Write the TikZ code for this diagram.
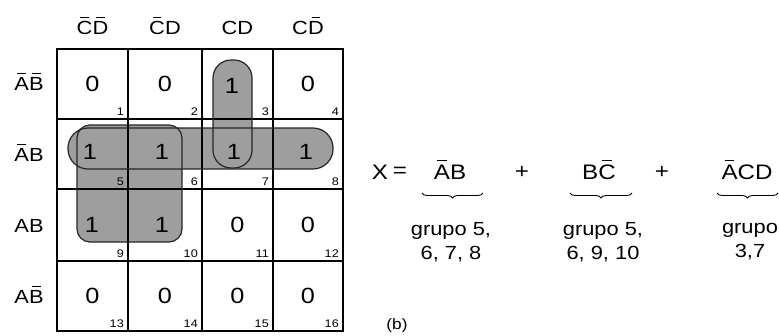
\documentclass[tikz,border=0pt]{standalone}
\usepackage{fontspec}
\setmainfont[FakeStretch=1.15]{Liberation Sans}
\usetikzlibrary{decorations.pathreplacing}
\newcommand\nt[1]{\ooalign{#1\cr\hidewidth\rule[0.86em]{0.45em}{0.07em}\hidewidth\cr}}
\tikzset{
  hdr/.style={font=\fontsize{19}{19}\selectfont, inner sep=0pt},
  val/.style={font=\fontsize{22}{22}\selectfont, inner sep=0pt},
  num/.style={font=\fontsize{11}{11}\selectfont, inner sep=0pt, anchor=south east},
  eq/.style={font=\fontsize{21}{21}\selectfont, inner sep=0pt},
  grp/.style={font=\fontsize{19}{24}\selectfont, inner sep=0pt, align=center},
  grpfill/.style={fill=black!38},
  grpline/.style={draw=black!85, line width=1.2pt},
  gridline/.style={line width=1.3pt},
  brc/.style={decorate, decoration={brace, mirror, amplitude=5pt}, line width=0.9pt}
}
\begin{document}
\begin{tikzpicture}[x=1pt, y=-1pt]
\useasboundingbox (0,0) rectangle (779,335);
% group fills
\fill[grpfill, rounded corners=20] (68,128) rectangle (333,169);
\fill[grpfill, rounded corners=13] (77,125) rectangle (182,242);
\fill[grpfill, rounded corners=18] (213,60) rectangle (252,168);
% grid
\draw[gridline] (57,49) rectangle (343,331);
\foreach \x in {128,202,273} \draw[gridline] (\x,49) -- (\x,331);
\foreach \y in {119,189,261} \draw[gridline] (57,\y) -- (343,\y);
% group outlines
\draw[grpline, rounded corners=18] (213,60) rectangle (252,168);
\draw[grpline, rounded corners=20] (68,128) rectangle (333,169);
\draw[grpline, rounded corners=13] (77,125) rectangle (182,242);
% headers
\node[hdr] (h1) at (92.5,28) {\nt{C}\nt{D}};
\node[hdr] (h2) at (165,28) {\nt{C}D};
\node[hdr] (h3) at (237.5,28) {CD};
\node[hdr] (h4) at (308,28) {C\nt{D}};
\node[hdr] (r1) at (29,84) {\nt{A}\nt{B}};
\node[hdr] (r2) at (29,155) {\nt{A}B};
\node[hdr] (r3) at (29,226) {AB};
\node[hdr] (r4) at (29,297) {A\nt{B}};
% cell numbers
\foreach \r/\yb in {0/119, 1/189, 2/261, 3/331} {
  \foreach \c/\xr in {1/128, 2/202, 3/273, 4/343} {
    \pgfmathtruncatemacro{\n}{\r*4+\c}
    \node[num] (n\n) at (\xr-4,\yb-3) {\n};
  }
}
% cell values
\node[val] (v1) at (92.5,84) {0};
\node[val] (v2) at (165,84) {0};
\node[val] (v3) at (232,86) {1};
\node[val] (v4) at (308,84) {0};
\node[val] (v5) at (90,152) {1};
\node[val] (v6) at (162,152) {1};
\node[val] (v7) at (234,152) {1};
\node[val] (v8) at (306,152) {1};
\node[val] (v9) at (92,225) {1};
\node[val] (v10) at (162,225) {1};
\node[val] (v11) at (237.5,225) {0};
\node[val] (v12) at (308,225) {0};
\node[val] (v13) at (92.5,296) {0};
\node[val] (v14) at (165,296) {0};
\node[val] (v15) at (237.5,296) {0};
\node[val] (v16) at (308,296) {0};
% equation
\node[eq] (X) at (380,172) {X};
\node[eq] (eqs) at (400,172) {=};
\node[eq] (t1) at (450,172) {\nt{A}B};
\node[eq] (p1) at (522,172) {+};
\node[eq] (t2) at (599,172) {B\nt{C}};
\node[eq] (p2) at (662,172) {+};
\node[eq] (t3) at (747,172) {\nt{A}CD};
\coordinate (b1l) at (422,193); \coordinate (b1r) at (483,193);
\coordinate (b2l) at (570,193); \coordinate (b2r) at (632,193);
\coordinate (b3l) at (717,193); \coordinate (b3r) at (778,193);
\draw[brc] (b1l) -- (b1r);
\draw[brc] (b2l) -- (b2r);
\draw[brc] (b3l) -- (b3r);
\node[grp] (g1) at (451,242) {grupo 5,\\6, 7, 8};
\node[grp] (g2) at (603,242) {grupo 5,\\6, 9, 10};
\node[grp] (g3) at (750,242) {grupo\\3,7};
\node[font=\fontsize{15}{15}\selectfont, inner sep=0pt] (lb) at (397,326) {(b)};
\end{tikzpicture}
\end{document}
